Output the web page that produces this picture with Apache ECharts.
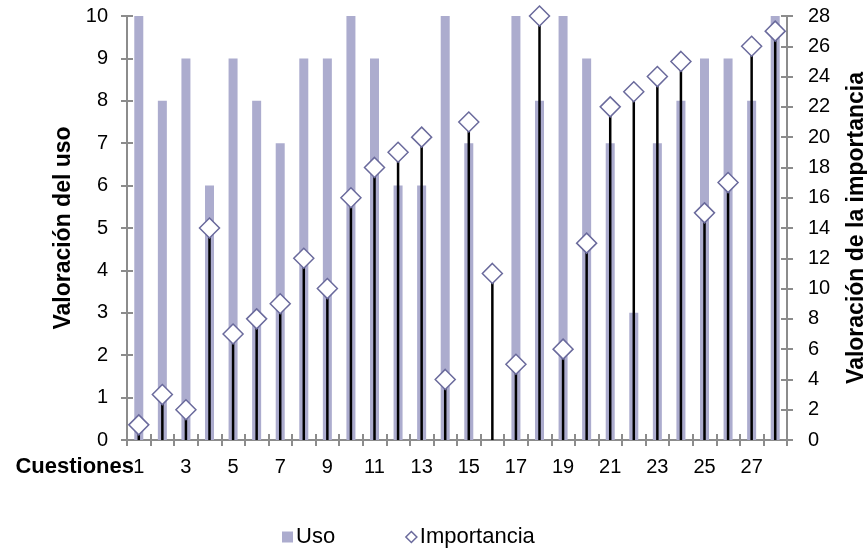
<!DOCTYPE html>
<html>
<head>
<meta charset="utf-8">
<script src="https://cdn.jsdelivr.net/npm/echarts@6/dist/echarts.min.js"></script>
<style>
  html, body { margin: 0; padding: 0; background: #fff; }
  #chart { width: 867px; height: 548px; }
</style>
</head>
<body>
<div id="chart"></div>
<script>
// Question numbers on the category axis
const cuestiones = ['1','2','3','4','5','6','7','8','9','10','11','12','13','14',
                    '15','16','17','18','19','20','21','22','23','24','25','26','27','28'];
// Usage rating (left axis, 0-10)
const uso = [10, 8, 9, 6, 9, 8, 7, 9, 9, 10, 9, 6, 6, 10,
             7, 0, 10, 8, 10, 9, 7, 3, 7, 8, 9, 9, 8, 10];
// Importance ranking (right axis, 0-28)
const importancia = [1, 3, 2, 14, 7, 8, 9, 12, 10, 16, 18, 19, 20, 4,
                     21, 11, 5, 28, 6, 13, 22, 23, 24, 25, 15, 17, 26, 27];

const FONT = '"Liberation Sans", Arial, sans-serif';
const AXIS_GREY = '#8c8c8c';
const BAR_COLOR = '#acacce';
const MARK_BORDER = '#6a6a9c';

const chart = echarts.init(document.getElementById('chart'), null, { renderer: 'canvas' });

const tickStyle = { show: true, length: 6, lineStyle: { color: AXIS_GREY, width: 2 } };
const lineStyle = { show: true, lineStyle: { color: AXIS_GREY, width: 2 } };
const nameStyle = { fontSize: 23, fontWeight: 'bold', color: '#000', fontFamily: FONT };

chart.setOption({
  animation: false,
  backgroundColor: '#ffffff',
  textStyle: { fontFamily: FONT },
  grid: { left: 127, right: 80, top: 16, bottom: 108, outerBoundsMode: 'none' },
  legend: {
    top: 521,
    left: 277,
    itemGap: 70,
    itemWidth: 11,
    itemHeight: 11,
    textStyle: { fontFamily: FONT, fontSize: 22, color: '#000', padding: [0, 0, 0, -2] },
    data: [
      { name: 'Uso', icon: 'rect', itemStyle: { color: BAR_COLOR } },
      { name: 'Importancia', icon: 'diamond',
        itemStyle: { color: '#fff', borderColor: MARK_BORDER, borderWidth: 1.5 } }
    ]
  },
  graphic: [{
    type: 'text',
    right: 867 - 134,
    top: 456,
    style: { text: 'Cuestiones', fontFamily: FONT, fontSize: 22, fontWeight: 'bold', fill: '#000' }
  }],
  xAxis: [
    {
      type: 'category',
      data: cuestiones,
      position: 'bottom',
      boundaryGap: true,
      axisLine: lineStyle,
      axisTick: Object.assign({ inside: false, interval: 0 }, tickStyle),
      axisLabel: { interval: 1, margin: 17, fontSize: 20, color: '#000', fontFamily: FONT }
    },
    {
      // same categories, drawn again with inward ticks so the ticks cross the axis line
      type: 'category',
      data: cuestiones,
      position: 'bottom',
      boundaryGap: true,
      axisLine: lineStyle,
      axisTick: Object.assign({ inside: true, interval: 0 }, tickStyle),
      axisLabel: { show: false }
    }
  ],
  yAxis: [
    {
      type: 'value', min: 0, max: 10, interval: 1, position: 'left',
      name: 'Valoración del uso', nameLocation: 'middle', nameGap: 50, nameRotate: 90,
      nameTextStyle: nameStyle,
      axisLine: lineStyle, axisTick: tickStyle, splitLine: { show: false },
      axisLabel: { margin: 19, fontSize: 20, color: '#000', fontFamily: FONT }
    },
    {
      type: 'value', min: 0, max: 28, interval: 2, position: 'right',
      name: 'Valoración de la importancia', nameLocation: 'middle', nameGap: 58, nameRotate: 90,
      nameTextStyle: nameStyle,
      axisLine: lineStyle, axisTick: tickStyle, splitLine: { show: false },
      axisLabel: { margin: 21, fontSize: 20, color: '#000', fontFamily: FONT }
    },
    {
      type: 'value', min: 0, max: 10, interval: 1, position: 'left',
      axisLine: lineStyle, axisTick: Object.assign({ inside: true }, tickStyle),
      axisLabel: { show: false }, splitLine: { show: false }
    },
    {
      type: 'value', min: 0, max: 28, interval: 2, position: 'right',
      axisLine: lineStyle, axisTick: Object.assign({ inside: true }, tickStyle),
      axisLabel: { show: false }, splitLine: { show: false }
    }
  ],
  series: [
    {
      name: 'Uso',
      type: 'bar',
      xAxisIndex: 0,
      yAxisIndex: 0,
      barWidth: 9,
      itemStyle: { color: BAR_COLOR },
      data: uso,
      z: 2
    },
    {
      // drop lines from each importance marker down to the axis
      name: 'importancia-drop',
      type: 'bar',
      xAxisIndex: 1,
      yAxisIndex: 1,
      barWidth: 2.5,
      itemStyle: { color: '#000' },
      data: importancia,
      z: 3
    },
    {
      name: 'Importancia',
      type: 'scatter',
      xAxisIndex: 0,
      yAxisIndex: 1,
      symbol: 'diamond',
      symbolSize: 20,
      itemStyle: { color: '#fff', borderColor: MARK_BORDER, borderWidth: 1.5, opacity: 1 },
      data: importancia,
      z: 4
    }
  ]
});
</script>
</body>
</html>
